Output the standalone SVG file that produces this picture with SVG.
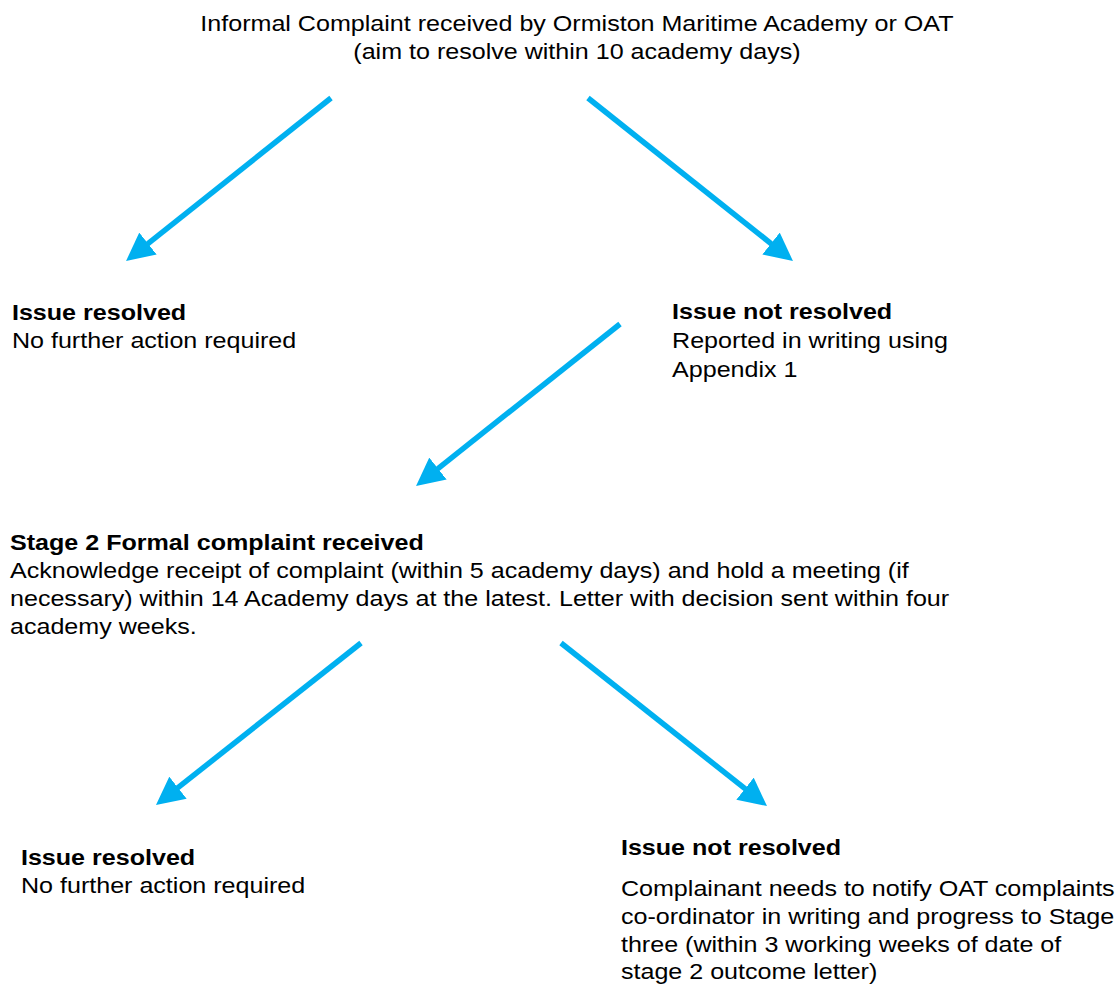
<svg xmlns="http://www.w3.org/2000/svg" width="1120" height="984" viewBox="0 0 1120 984">
<style>
text{font-family:"Liberation Sans",Arial,sans-serif;font-size:22px;fill:#000}
.b{font-weight:bold}
.c{text-anchor:middle}
.arr{stroke:#00B0F0;stroke-width:5.5;fill:none;marker-end:url(#ah)}
</style>
<defs>
<marker id="ah" markerUnits="userSpaceOnUse" markerWidth="28" markerHeight="28" viewBox="0 0 28 28" refX="2" refY="14" orient="auto">
<path d="M0,0 L28,14 L0,28 z" fill="#00B0F0"/>
</marker>
</defs>
<rect width="1120" height="984" fill="#fff"/>
<g id="connectors">
<line class="arr" x1="331" y1="98" x2="146.4" y2="244.8"/>
<line class="arr" x1="588" y1="98" x2="772.6" y2="244.8"/>
<line class="arr" x1="620" y1="324" x2="436.4" y2="469.8"/>
<line class="arr" x1="361" y1="643" x2="176.4" y2="788.9"/>
<line class="arr" x1="561" y1="643" x2="746.6" y2="789.9"/>
</g>
<g transform="scale(1.14 1)">
<g id="informal">
<text class="c" x="506.1" y="31">Informal Complaint received by Ormiston Maritime Academy or OAT</text>
<text class="c" x="506.1" y="59">(aim to resolve within 10 academy days)</text>
</g>
<g id="resolved1">
<text class="b" x="10.5" y="320">Issue resolved</text>
<text x="10.5" y="348">No further action required</text>
</g>
<g id="notresolved1">
<text class="b" x="589.5" y="319">Issue not resolved</text>
<text x="589.5" y="348">Reported in writing using</text>
<text x="589.5" y="377">Appendix 1</text>
</g>
<g id="stage2">
<text class="b" x="8.8" y="550">Stage 2 Formal complaint received</text>
<text x="8.8" y="578">Acknowledge receipt of complaint (within 5 academy days) and hold a meeting (if</text>
<text x="8.8" y="606">necessary) within 14 Academy days at the latest. Letter with decision sent within four</text>
<text x="8.8" y="634">academy weeks.</text>
</g>
<g id="resolved2">
<text class="b" x="18.4" y="865">Issue resolved</text>
<text x="18.4" y="893">No further action required</text>
</g>
<g id="notresolved2">
<text class="b" x="544.7" y="855">Issue not resolved</text>
<text x="544.7" y="896">Complainant needs to notify OAT complaints</text>
<text x="544.7" y="924">co-ordinator in writing and progress to Stage</text>
<text x="544.7" y="952">three (within 3 working weeks of date of</text>
<text x="544.7" y="979">stage 2 outcome letter)</text>
</g>
</g>
</svg>
